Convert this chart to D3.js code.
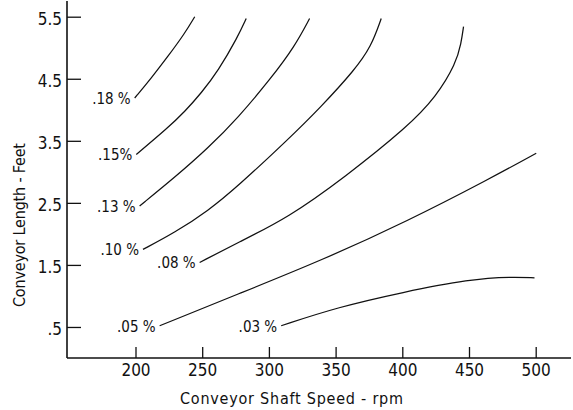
<!DOCTYPE html>
<html>
<head>
<meta charset="utf-8">
<script src="https://cdn.jsdelivr.net/npm/d3@7"></script>
<style>
  body { margin: 0; background: #fff; }
  svg text { font-family: "DejaVu Sans Condensed", "Liberation Sans Narrow", "DejaVu Sans", sans-serif; fill: #111; }
</style>
</head>
<body>
<div id="chart"></div>
<script>
'use strict';

// tick values along each axis
const rpmTicks = [200, 250, 300, 350, 400, 450, 500];
const lengthTicks = [0.5, 1.5, 2.5, 3.5, 4.5, 5.5];
const lengthTickLabels = [".5", "1.5", "2.5", "3.5", "4.5", "5.5"];

// contour lines, each point is [rpm, feet]
const curve18 = [[199.4, 4.19], [211.8, 4.51], [224.3, 4.86], [236.9, 5.23], [244.4, 5.50]];
const curve15 = [[200.6, 3.28], [224.3, 3.71], [236.9, 3.97], [249.3, 4.27], [261.8, 4.62], [276.8, 5.18], [283.0, 5.47]];
const curve13 = [[203.1, 2.45], [229.4, 2.91], [254.3, 3.38], [276.8, 3.87], [301.7, 4.51], [319.3, 5.02], [330.5, 5.47]];
const curve10 = [[205.6, 1.75], [229.4, 2.02], [254.3, 2.37], [276.8, 2.77], [314.3, 3.52], [339.2, 4.05], [364.2, 4.64], [376.7, 5.02], [384.2, 5.47]];
const curve08 = [[248.1, 1.54], [276.8, 1.86], [314.3, 2.26], [356.7, 2.91], [404.2, 3.73], [425.4, 4.21], [440.3, 4.75], [444.1, 5.07], [445.9, 5.34]];
const curve05 = [[218.1, 0.52], [276.8, 1.03], [339.2, 1.57], [404.2, 2.21], [465.6, 2.89], [500.4, 3.30]];
const curve03 = [[309.2, 0.52], [351.7, 0.82], [400.4, 1.06], [450.4, 1.27], [482.8, 1.31], [499.1, 1.29]];

const curveLabels = [".18 %", ".15%", ".13 %", ".10 %", ".08 %", ".05 %", ".03 %"];
const curves = [curve18, curve15, curve13, curve10, curve08, curve05, curve03];

const width = 573, height = 410;
const axisLeftX = 67, axisBottomY = 358;

const svg = d3.select("#chart")
    .append("svg")
    .attr("width", width)
    .attr("height", height);

const x = d3.scaleLinear()
    .domain([200, 500])
    .range([135.5, 535.7]);

const y = d3.scaleLinear()
    .domain([0, 5.5])
    .range([axisBottomY, 16.7]);

// axis lines
svg.append("line")
    .attr("x1", axisLeftX).attr("x2", axisLeftX)
    .attr("y1", 1).attr("y2", axisBottomY)
    .attr("stroke", "#111").attr("stroke-width", 1.6);

svg.append("line")
    .attr("x1", axisLeftX).attr("x2", 571)
    .attr("y1", axisBottomY).attr("y2", axisBottomY)
    .attr("stroke", "#111").attr("stroke-width", 1.4);

// x axis ticks point up into the plot
const xAxis = svg.append("g")
    .attr("transform", "translate(0," + axisBottomY + ")")
    .call(d3.axisBottom(x).tickValues(rpmTicks).tickSizeInner(-11).tickSizeOuter(0).tickPadding(6));
xAxis.select(".domain").remove();
xAxis.selectAll(".tick line").attr("stroke", "#111").attr("stroke-width", 1.3);
xAxis.selectAll(".tick text").style("font-size", "17px").attr("fill", "#111");

// y axis ticks point right into the plot
const yAxis = svg.append("g")
    .attr("transform", "translate(" + axisLeftX + ",0)")
    .call(d3.axisLeft(y).tickValues(lengthTicks)
        .tickFormat((d, i) => lengthTickLabels[i])
        .tickSizeInner(-14).tickSizeOuter(0).tickPadding(5));
yAxis.select(".domain").remove();
yAxis.selectAll(".tick line").attr("stroke", "#111").attr("stroke-width", 1.3);
yAxis.selectAll(".tick text").style("font-size", "17px").attr("fill", "#111").attr("dy", "0.45em");

// axis titles
svg.append("text")
    .attr("x", 180)
    .attr("y", 404)
    .attr("textLength", 223)
    .attr("lengthAdjust", "spacing")
    .style("font-size", "16px")
    .text("Conveyor Shaft Speed - rpm");

svg.append("text")
    .attr("transform", "translate(25,307) rotate(-90)")
    .attr("x", 0)
    .attr("y", 0)
    .attr("textLength", 164)
    .attr("lengthAdjust", "spacing")
    .style("font-size", "16px")
    .text("Conveyor Length - Feet");

// contour lines, smoothed like hand-drawn curves
const line = d3.line()
    .x(d => x(d[0]))
    .y(d => y(d[1]))
    .curve(d3.curveBasis);

svg.selectAll(".contour")
    .data(curves)
    .enter()
    .append("path")
    .attr("class", "contour")
    .attr("d", line)
    .attr("fill", "none")
    .attr("stroke", "#111")
    .attr("stroke-width", 1.25);

// labels sit just left of where each line starts
svg.selectAll(".contourLabel")
    .data(curves)
    .enter()
    .append("text")
    .attr("class", "contourLabel")
    .attr("x", d => x(d[0][0]) - 4)
    .attr("y", d => y(d[0][1]) + 6)
    .attr("text-anchor", "end")
    .style("font-size", "15px")
    .text((d, i) => curveLabels[i]);
</script>
</body>
</html>
